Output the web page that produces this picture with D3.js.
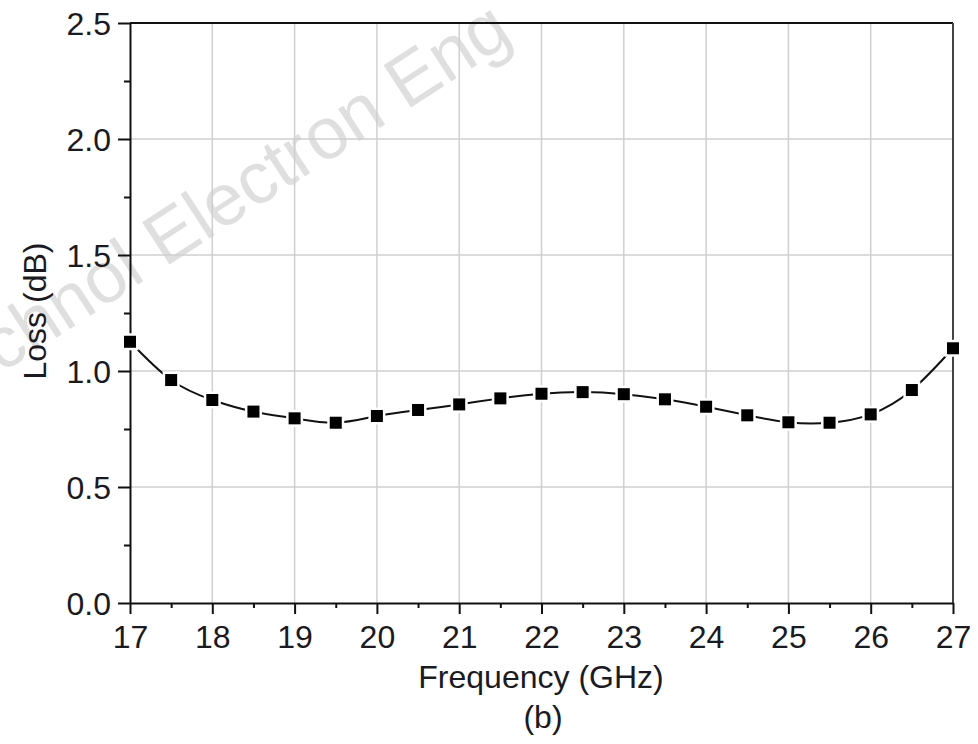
<!DOCTYPE html>
<html>
<head>
<meta charset="utf-8">
<script src="https://cdn.jsdelivr.net/npm/d3@7"></script>
<style>
  body { margin: 0; background: #fff; }
  svg { display: block; font-family: "Liberation Sans", Arial, sans-serif; }
</style>
</head>
<body>
<svg width="978" height="744"></svg>
<script>
// data
const freq = [17, 17.5, 18, 18.5, 19, 19.5, 20, 20.5, 21, 21.5, 22, 22.5, 23, 23.5, 24, 24.5, 25, 25.5, 26, 26.5, 27];
const loss = [1.126, 0.961, 0.875, 0.825, 0.796, 0.777, 0.806, 0.832, 0.856, 0.882, 0.902, 0.909, 0.900, 0.878, 0.846, 0.809, 0.779, 0.777, 0.813, 0.918, 1.098];
const xTicks = [17, 18, 19, 20, 21, 22, 23, 24, 25, 26, 27];
const yTicks = [0.0, 0.5, 1.0, 1.5, 2.0, 2.5];

var svg = d3.select("svg"),
    margin = {top: 23, right: 25, bottom: 141, left: 130},
    width = +svg.attr("width") - margin.left - margin.right,
    height = +svg.attr("height") - margin.top - margin.bottom;

// watermark behind everything
svg.append("text")
    .attr("transform", "translate(515,40) rotate(-33)")
    .attr("text-anchor", "end")
    .style("font-size", "73px")
    .style("fill", "#dfdfdf")
    .text("Front Inform Technol Electron Eng");

var x = d3.scaleLinear().domain([17, 27]).range([0, width]);
var y = d3.scaleLinear().domain([0, 2.5]).range([height, 0]);

var g = svg.append("g")
    .attr("transform", "translate(" + margin.left + "," + margin.top + ")");

// grid
g.append("g").selectAll("line")
    .data(xTicks.slice(1, -1))
  .enter().append("line")
    .attr("x1", d => x(d)).attr("x2", d => x(d))
    .attr("y1", 0).attr("y2", height)
    .attr("stroke", "#cfcfcf").attr("stroke-width", 1.5);
g.append("g").selectAll("line")
    .data(yTicks.slice(1, -1))
  .enter().append("line")
    .attr("y1", d => y(d)).attr("y2", d => y(d))
    .attr("x1", 0).attr("x2", width)
    .attr("stroke", "#cfcfcf").attr("stroke-width", 1.5);

// frame top / right
g.append("line").attr("x1", 0).attr("x2", width).attr("y1", 0).attr("y2", 0)
    .attr("stroke", "#111").attr("stroke-width", 2);
g.append("line").attr("x1", width).attr("x2", width).attr("y1", 0).attr("y2", height)
    .attr("stroke", "#444").attr("stroke-width", 2);

// minor ticks
var xMinor = d3.range(17.5, 27, 1);
var yMinor = d3.range(0.25, 2.5, 0.5);
g.append("g")
    .attr("transform", "translate(0," + height + ")")
    .call(d3.axisBottom(x).tickValues(xMinor).tickSize(5).tickFormat(""))
    .call(a => a.select(".domain").remove())
    .selectAll("line").attr("stroke", "#111").attr("stroke-width", 2);
g.append("g")
    .call(d3.axisLeft(y).tickValues(yMinor).tickSize(6).tickFormat(""))
    .call(a => a.select(".domain").remove())
    .selectAll("line").attr("stroke", "#111").attr("stroke-width", 2);

// main axes
var xAxis = g.append("g")
    .attr("transform", "translate(0," + height + ")")
    .call(d3.axisBottom(x).tickValues(xTicks).tickSize(11).tickSizeOuter(0).tickFormat(d3.format("d")));
var yAxis = g.append("g")
    .call(d3.axisLeft(y).tickValues(yTicks).tickSize(12).tickSizeOuter(0).tickPadding(7).tickFormat(d3.format(".1f")));

[xAxis, yAxis].forEach(function(a) {
    a.select(".domain").attr("stroke", "#111").attr("stroke-width", 2);
    a.selectAll(".tick line").attr("stroke", "#111").attr("stroke-width", 2);
    a.selectAll("text")
        .style("font-family", "'Liberation Sans', Arial, sans-serif")
        .style("font-size", "32px")
        .attr("fill", "#1a1a22");
});
xAxis.selectAll("text").attr("dy", "0.72em").attr("y", 22);
yAxis.selectAll("text").attr("dy", "0.36em");

// curve
var line = d3.line()
    .x((d, i) => x(freq[i]))
    .y(d => y(d))
    .curve(d3.curveNatural);

g.append("path")
    .datum(loss)
    .attr("fill", "none")
    .attr("stroke", "#111")
    .attr("stroke-width", 2)
    .attr("d", line);

g.selectAll(".pt")
    .data(loss)
  .enter().append("rect")
    .attr("class", "pt")
    .attr("x", (d, i) => x(freq[i]) - 6)
    .attr("y", d => y(d) - 6)
    .attr("width", 12)
    .attr("height", 12)
    .attr("fill", "#000")
    .attr("stroke", "#fff")
    .attr("stroke-width", 5)
    .attr("paint-order", "stroke");

// labels
svg.append("text")
    .attr("x", 541).attr("y", 688)
    .attr("text-anchor", "middle")
    .style("font-size", "32px").attr("fill", "#1a1a22")
    .text("Frequency (GHz)");
svg.append("text")
    .attr("x", 543).attr("y", 728)
    .attr("text-anchor", "middle")
    .style("font-size", "32px").attr("fill", "#1a1a22")
    .text("(b)");
svg.append("text")
    .attr("transform", "translate(46,311) rotate(-90)")
    .attr("text-anchor", "middle")
    .style("font-size", "32px").attr("fill", "#1a1a22")
    .text("Loss (dB)");
</script>
</body>
</html>
